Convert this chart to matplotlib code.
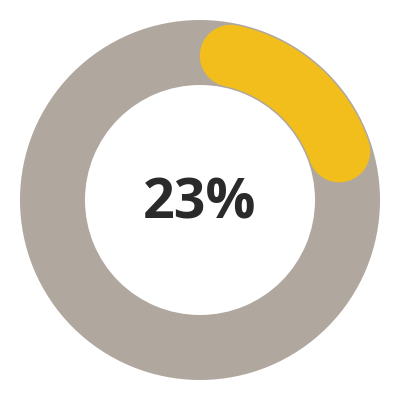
import numpy as np
import matplotlib
matplotlib.use("Agg")
import matplotlib.pyplot as plt
from matplotlib.patches import Wedge

# data
percent = 23
label = "23%"

track_color = "#b0a79f"
bar_color = "#f2be1c"
text_color = "#2a2a2a"

dpi = 100
fig = plt.figure(figsize=(4, 4), dpi=dpi, facecolor="w")
ax = fig.add_axes([0, 0, 1, 1])
ax.set_xlim(-200, 200)
ax.set_ylim(-200, 200)
ax.set_aspect("equal")
ax.axis("off")

r_out, r_in = 180, 115
ax.add_patch(Wedge((0, 0), r_out, 0, 360, width=r_out - r_in, color=track_color, lw=0))

# progress arc with round caps, caps included inside the percent span
r_mid = (r_out + r_in) / 2
band = 62  # px
cap = np.degrees((band / 2) / r_mid)
span = 360 * percent / 100
theta = np.radians(np.linspace(90 - cap, 90 - span + cap, 200))
ax.plot(r_mid * np.cos(theta), r_mid * np.sin(theta), color=bar_color,
        lw=band * 72 / dpi, solid_capstyle="round")

ax.text(0, -4, label, ha="center", va="center", fontsize=40, fontweight="bold",
        color=text_color, family=["Open Sans", "DejaVu Sans"])

fig.savefig("out.png", dpi=dpi, facecolor="w")
